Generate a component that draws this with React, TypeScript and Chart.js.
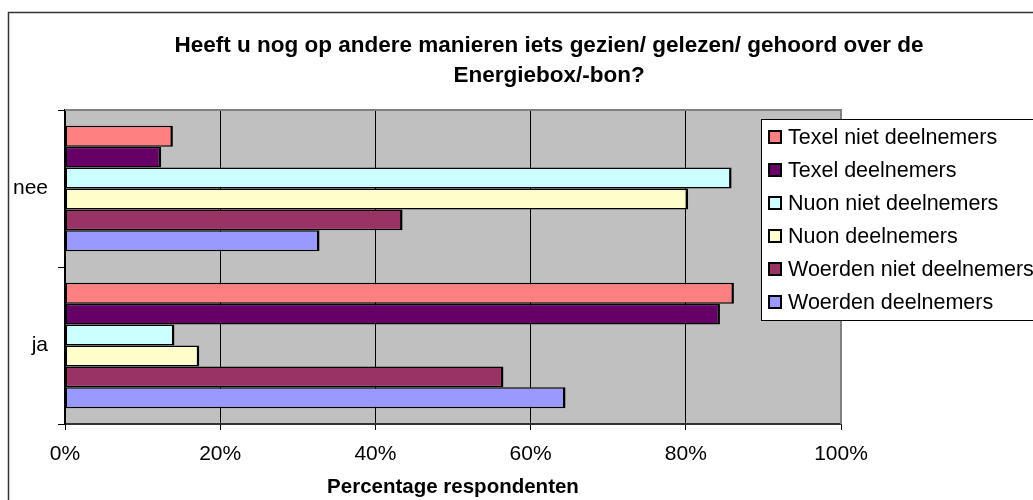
import React, { useEffect, useRef } from "react";
import { Chart, registerables } from "chart.js";

Chart.register(...registerables);

const categories = ["nee", "ja"];
const seriesNames = [
  "Texel niet deelnemers",
  "Texel deelnemers",
  "Nuon niet deelnemers",
  "Nuon deelnemers",
  "Woerden niet deelnemers",
  "Woerden deelnemers",
];
const texelNiet = [13.9, 86.2];
const texelDeel = [12.4, 84.4];
const nuonNiet = [85.9, 14.1];
const nuonDeel = [80.3, 17.3];
const woerdenNiet = [43.5, 56.5];
const woerdenDeel = [32.8, 64.5];
const seriesValues = [texelNiet, texelDeel, nuonNiet, nuonDeel, woerdenNiet, woerdenDeel];
const seriesColors = ["#FF8080", "#660066", "#CCFFFF", "#FFFFCC", "#993366", "#9999FF"];
const titleLines = [
  "Heeft u nog op andere manieren iets gezien/ gelezen/ gehoord over de",
  "Energiebox/-bon?",
];
const xTitle = "Percentage respondenten";

const FONT = "'Liberation Sans', Arial, sans-serif";

const customPlugin = {
  id: "customDecor",
  beforeDraw(chart: any) {
    const { ctx, chartArea: a } = chart;
    ctx.save();
    ctx.fillStyle = "#ffffff";
    ctx.fillRect(0, 0, chart.width, chart.height);
    ctx.fillStyle = "#C0C0C0";
    ctx.fillRect(a.left, a.top, a.right - a.left, a.bottom - a.top);
    ctx.restore();
  },
  afterDraw(chart: any) {
    const { ctx, chartArea: a } = chart;
    ctx.save();
    // plot top/right border
    ctx.strokeStyle = "#808080";
    ctx.lineWidth = 2;
    ctx.beginPath();
    ctx.moveTo(a.left, a.top);
    ctx.lineTo(a.right, a.top);
    ctx.lineTo(a.right, a.bottom);
    ctx.stroke();
    // outer border
    ctx.strokeStyle = "#333333";
    ctx.lineWidth = 1.5;
    ctx.beginPath();
    ctx.moveTo(8.5, 500);
    ctx.lineTo(8.5, 12.5);
    ctx.lineTo(1033, 12.5);
    ctx.stroke();
    // title
    ctx.fillStyle = "#000";
    ctx.font = `bold 22.5px ${FONT}`;
    ctx.textAlign = "center";
    ctx.textBaseline = "alphabetic";
    ctx.fillText(titleLines[0], 549, 51.5);
    ctx.fillText(titleLines[1], 549, 82);
    // legend
    const lx = 761.5, ly = 119.5;
    ctx.fillStyle = "#fff";
    ctx.fillRect(lx, ly, 300, 201);
    ctx.strokeStyle = "#000";
    ctx.lineWidth = 1;
    ctx.strokeRect(lx, ly, 300, 201);
    ctx.font = `21.5px ${FONT}`;
    ctx.textAlign = "left";
    ctx.textBaseline = "middle";
    chart.data.datasets.forEach((ds: any, i: number) => {
      const cy = 137 + i * 33;
      ctx.fillStyle = ds.backgroundColor;
      ctx.fillRect(769, cy - 6, 12, 12);
      ctx.strokeStyle = "#000";
      ctx.lineWidth = 2;
      ctx.strokeRect(769, cy - 6, 12, 12);
      ctx.fillStyle = "#000";
      ctx.fillText(ds.label, 788, cy + 1);
    });
    ctx.restore();
  },
};

export default function App() {
  const ref = useRef<HTMLCanvasElement | null>(null);
  useEffect(() => {
    document.body.style.margin = "0";
    const canvas = ref.current;
    if (!canvas) return;
    const chart = new Chart(canvas, {
      type: "bar",
      data: {
        labels: categories,
        datasets: seriesNames.map((name, i) => ({
          label: name,
          data: seriesValues[i],
          backgroundColor: seriesColors[i],
          borderColor: "#000",
          borderWidth: { top: 1.5, bottom: 1.5, left: 1.5, right: 2.5 },
          borderSkipped: false,
          inflateAmount: 0,
          categoryPercentage: 0.8,
          barPercentage: 1,
        })),
      },
      options: {
        indexAxis: "y",
        responsive: false,
        animation: false,
        layout: { padding: { top: 110, right: 192, bottom: 0, left: 0 } },
        plugins: {
          legend: { display: false },
          title: { display: false },
          tooltip: { enabled: false },
        },
        scales: {
          x: {
            min: 0,
            max: 100,
            ticks: {
              stepSize: 20,
              callback: (v: any) => v + "%",
              color: "#000",
              font: { family: FONT, size: 21 },
              padding: 12,
              maxRotation: 0,
            },
            grid: {
              color: (c: any) => (c.tick && c.tick.value === 100 ? "#808080" : "#000"),
              lineWidth: 1,
              tickLength: 6,
              tickColor: "#000",
            },
            border: { display: true, color: "#333", width: 2 },
            title: {
              display: true,
              text: xTitle,
              color: "#000",
              font: { family: FONT, size: 20.5, weight: "bold" },
              padding: { top: 0, bottom: 0 },
            },
            afterFit: (s: any) => {
              s.height = 76;
            },
          },
          y: {
            type: "category",
            offset: true,
            ticks: {
              color: "#000",
              font: { family: FONT, size: 21 },
              padding: 10,
            },
            grid: {
              offset: true,
              drawOnChartArea: false,
              drawTicks: true,
              tickLength: 7,
              tickColor: "#000",
              color: "#000",
            },
            border: { display: true, color: "#000", width: 1.5 },
            afterFit: (s: any) => {
              s.width = 65;
            },
          },
        },
      },
      plugins: [customPlugin],
    } as any);
    return () => chart.destroy();
  }, []);
  return (
    <div style={{ width: 1033, height: 500 }}>
      <canvas ref={ref} width={1033} height={500} style={{ display: "block" }} />
    </div>
  );
}
